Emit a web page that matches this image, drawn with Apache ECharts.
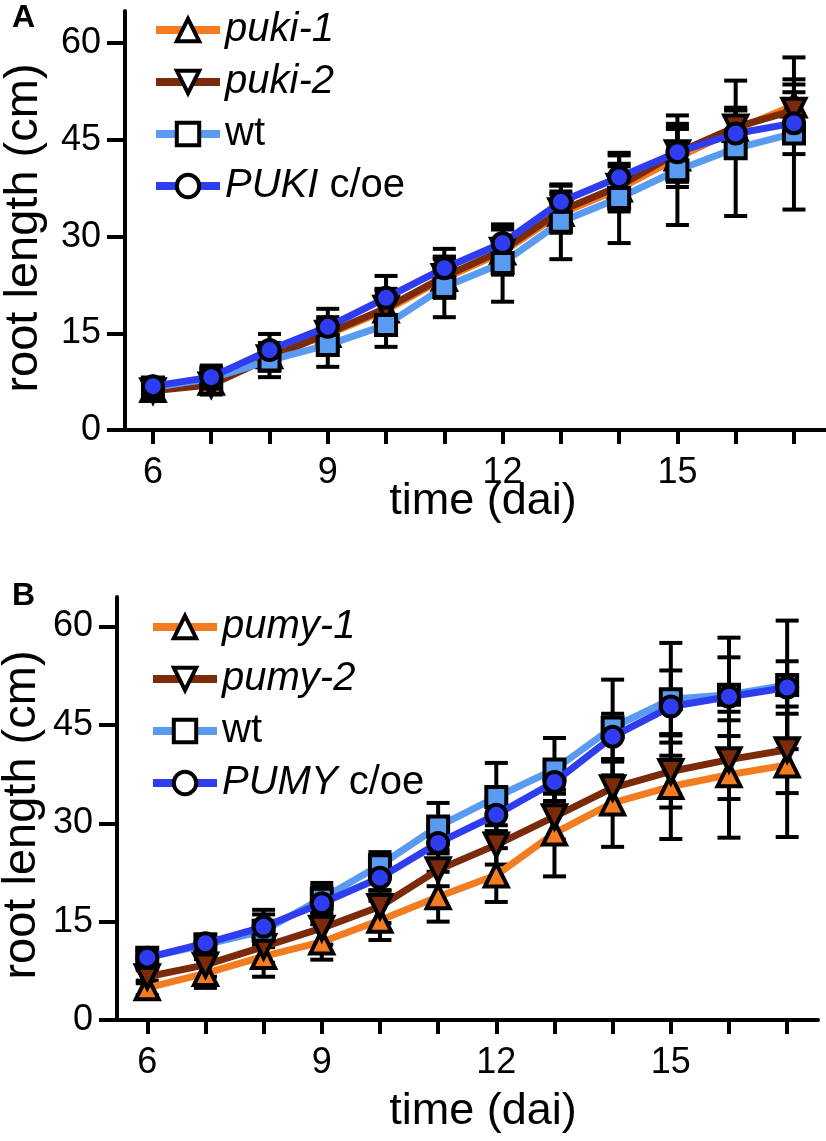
<!DOCTYPE html>
<html>
<head>
<meta charset="utf-8">
<script src="https://cdn.jsdelivr.net/npm/echarts@6/dist/echarts.min.js"></script>
<style>
html,body{margin:0;padding:0;background:#fff;}
#chart{width:826px;height:1141px;}
</style>
</head>
<body>
<div id="chart"></div>
<script>
// ---------- data ----------
const days = [6, 7, 8, 9, 10, 11, 12, 13, 14, 15, 16, 17];
const xTickValues = [6, 7, 8, 9, 10, 11, 12, 13, 14, 15, 16, 17];
const xLabelValues = [6, 9, 12, 15];
const yTickValues = [0, 15, 30, 45, 60];

// Panel A
const puki1 = [6.3, 7.4, 11.5, 14.8, 18.6, 23.5, 27.6, 33.6, 37.4, 42.2, 46.6, 50.4];
const puki2 = [6.1, 7.0, 11.2, 15.0, 18.9, 23.8, 27.9, 34.0, 37.8, 43.0, 47.0, 49.6];
const wtA   = [6.6, 8.0, 10.8, 13.2, 16.3, 22.2, 25.9, 32.3, 36.0, 40.3, 43.7, 46.0];
const coeA  = [6.8, 8.2, 12.4, 16.0, 20.5, 25.1, 29.0, 35.4, 39.2, 43.1, 46.0, 47.6];
const puki1Err = [0.8, 1.5, 2.0, 2.5, 3.0, 3.0, 3.5, 3.0, 3.5, 4.5, 3.0, 4.0];
const puki2Err = [0.8, 1.5, 2.0, 2.5, 3.0, 3.0, 3.5, 3.0, 3.5, 4.5, 3.0, 4.0];
const wtAErr   = [0.8, 2.0, 2.6, 3.4, 3.4, 4.7, 6.0, 5.8, 7.0, 8.5, 10.5, 11.8];
const coeAErr  = [0.8, 1.5, 2.5, 2.8, 3.4, 3.0, 2.8, 2.5, 3.4, 4.0, 3.6, 4.8];

// Panel B
const pumy1 = [4.9, 7.1, 9.7, 11.9, 15.2, 18.8, 22.1, 28.5, 33.1, 35.6, 37.4, 38.9];
const pumy2 = [6.6, 8.4, 11.2, 14.0, 17.3, 22.9, 26.7, 31.0, 35.4, 37.9, 39.7, 41.2];
const wtB   = [9.5, 11.5, 13.6, 18.5, 23.6, 29.5, 34.0, 38.2, 44.6, 48.9, 49.6, 51.1];
const coeB  = [9.5, 11.7, 14.2, 17.8, 21.7, 27.0, 31.3, 36.3, 43.2, 47.8, 49.3, 50.7];
const pumy1Err = [1.1, 2.2, 3.1, 2.7, 3.0, 3.8, 4.1, 6.6, 6.7, 8.0, 9.6, 11.0];
const pumy2Err = [1.0, 1.8, 2.5, 2.5, 2.5, 2.5, 3.0, 3.5, 4.0, 5.5, 6.0, 6.6];
const wtBErr   = [1.0, 1.5, 2.5, 2.4, 2.0, 3.6, 5.2, 4.8, 7.3, 8.6, 8.7, 9.8];
const coeBErr  = [1.2, 1.3, 2.6, 2.5, 2.0, 2.5, 2.6, 3.0, 3.5, 5.5, 6.0, 4.0];

const legendLabels = {
  'puki-1': '{i|puki-1}', 'puki-2': '{i|puki-2}', 'wt': '{n|wt}', 'PUKI c/oe': '{i|PUKI}{n| c/oe}',
  'pumy-1': '{i|pumy-1}', 'pumy-2': '{i|pumy-2}', 'wt ': '{n|wt}', 'PUMY c/oe': '{i|PUMY}{n| c/oe}'
};

// ---------- style ----------
const FONT = 'Liberation Sans, Arial, Helvetica, sans-serif';
const C_ORANGE = '#F47C20', C_BROWN = '#7B2A0A', C_LBLUE = '#5A9BF2', C_BLUE = '#2E3DF0';

function pts(v) { return days.map((d, i) => [d, v[i]]); }
function errs(v, e) { return days.map((d, i) => [d, v[i] - e[i], v[i] + e[i]]); }

function lineSeries(name, values, color, symbol, rot, axis, z) {
  return {
    type: 'line', name: name, data: pts(values), xAxisIndex: axis, yAxisIndex: axis,
    symbol: symbol, symbolRotate: rot, symbolSize: symbol === 'triangle' ? 23 : 20,
    showAllSymbol: true, z: z,
    lineStyle: { color: color, width: 7 },
    itemStyle: { color: color, borderColor: '#000', borderWidth: 4 },
    emphasis: { disabled: true }, animation: false
  };
}
function errSeries(values, e, axis) {
  return {
    type: 'custom', xAxisIndex: axis, yAxisIndex: axis, z: 1, animation: false,
    data: errs(values, e),
    encode: { x: 0, y: [1, 2] },
    renderItem: function (params, api) {
      const x = api.value(0);
      const top = api.coord([x, api.value(2)]);
      const bot = api.coord([x, api.value(1)]);
      const hw = 11.5;
      const st = { stroke: '#000', lineWidth: 4 };
      return {
        type: 'group', children: [
          { type: 'line', shape: { x1: top[0], y1: top[1], x2: bot[0], y2: bot[1] }, style: st },
          { type: 'line', shape: { x1: top[0] - hw, y1: top[1], x2: top[0] + hw, y2: top[1] }, style: st },
          { type: 'line', shape: { x1: bot[0] - hw, y1: bot[1], x2: bot[0] + hw, y2: bot[1] }, style: st }
        ]
      };
    }
  };
}

function xAxis(idx, min, max) {
  return {
    type: 'value', gridIndex: idx, min: min, max: max,
    axisLine: { show: true, lineStyle: { color: '#000', width: 4 } },
    axisTick: { show: true, length: 14, lineStyle: { color: '#000', width: 4 }, customValues: xTickValues },
    axisLabel: { customValues: xLabelValues, color: '#000', fontSize: 36, fontFamily: FONT, margin: 25 },
    splitLine: { show: false }
  };
}
function yAxis(idx, max) {
  return {
    type: 'value', gridIndex: idx, min: 0, max: max,
    axisLine: { show: true, lineStyle: { color: '#000', width: 4 } },
    axisTick: { show: true, length: 18, lineStyle: { color: '#000', width: 4 }, customValues: yTickValues },
    axisLabel: { customValues: yTickValues, color: '#000', fontSize: 36, fontFamily: FONT, margin: 24 },
    splitLine: { show: false }
  };
}
function legend(names, left, top) {
  return {
    data: names, orient: 'vertical', left: left, top: top, padding: 0,
    itemWidth: 64, itemHeight: 28, itemGap: 12,
    lineStyle: { width: 8 },
    itemStyle: { color: '#fff', borderColor: '#000', borderWidth: 4 },
    formatter: function (n) { return legendLabels[n]; },
    textStyle: {
      color: '#000', fontSize: 40, fontFamily: FONT, lineHeight: 40,
      rich: {
        i: { fontStyle: 'italic', fontSize: 40, fontFamily: FONT, color: '#000', lineHeight: 40 },
        n: { fontSize: 40, fontFamily: FONT, color: '#000', lineHeight: 40 }
      }
    },
    selectedMode: false
  };
}

const option = {
  animation: false,
  backgroundColor: '#fff',
  grid: [
    { left: 125, top: 11, width: 701, height: 419 },
    { left: 117, top: 597, width: 701, height: 423 }
  ],
  xAxis: [xAxis(0, 5.52, 17.55), xAxis(1, 5.48, 17.53)],
  yAxis: [yAxis(0, 65), yAxis(1, 64.5)],
  legend: [
    legend(['puki-1', 'puki-2', 'wt', 'PUKI c/oe'], 152, 10),
    legend(['pumy-1', 'pumy-2', 'wt ', 'PUMY c/oe'], 149, 607)
  ],
  graphic: [
    { type: 'text', left: 12, top: 2, style: { text: 'A', font: 'bold 32px ' + FONT, fill: '#000' } },
    { type: 'text', left: 12, top: 580, style: { text: 'B', font: 'bold 32px ' + FONT, fill: '#000' } },
    { type: 'text', x: 24, y: 228, rotation: Math.PI / 2, style: { text: 'root length (cm)', font: '47px ' + FONT, fill: '#000', align: 'center', verticalAlign: 'middle' } },
    { type: 'text', x: 22, y: 815, rotation: Math.PI / 2, style: { text: 'root length (cm)', font: '47px ' + FONT, fill: '#000', align: 'center', verticalAlign: 'middle' } },
    { type: 'text', x: 483, y: 502, style: { text: 'time (dai)', font: '45px ' + FONT, fill: '#000', align: 'center', verticalAlign: 'middle' } },
    { type: 'text', x: 483, y: 1112, style: { text: 'time (dai)', font: '45px ' + FONT, fill: '#000', align: 'center', verticalAlign: 'middle' } }
  ],
  series: [
    errSeries(puki1, puki1Err, 0), errSeries(puki2, puki2Err, 0), errSeries(wtA, wtAErr, 0), errSeries(coeA, coeAErr, 0),
    lineSeries('puki-1', puki1, C_ORANGE, 'triangle', 0, 0, 2),
    lineSeries('puki-2', puki2, C_BROWN, 'triangle', 180, 0, 3),
    lineSeries('wt', wtA, C_LBLUE, 'rect', 0, 0, 4),
    lineSeries('PUKI c/oe', coeA, C_BLUE, 'circle', 0, 0, 5),
    errSeries(pumy1, pumy1Err, 1), errSeries(pumy2, pumy2Err, 1), errSeries(wtB, wtBErr, 1), errSeries(coeB, coeBErr, 1),
    lineSeries('pumy-1', pumy1, C_ORANGE, 'triangle', 0, 1, 2),
    lineSeries('pumy-2', pumy2, C_BROWN, 'triangle', 180, 1, 3),
    lineSeries('wt ', wtB, C_LBLUE, 'rect', 0, 1, 4),
    lineSeries('PUMY c/oe', coeB, C_BLUE, 'circle', 0, 1, 5)
  ]
};
const chart = echarts.init(document.getElementById('chart'), null, { renderer: 'canvas' });
chart.setOption(option);
</script>
</body>
</html>
